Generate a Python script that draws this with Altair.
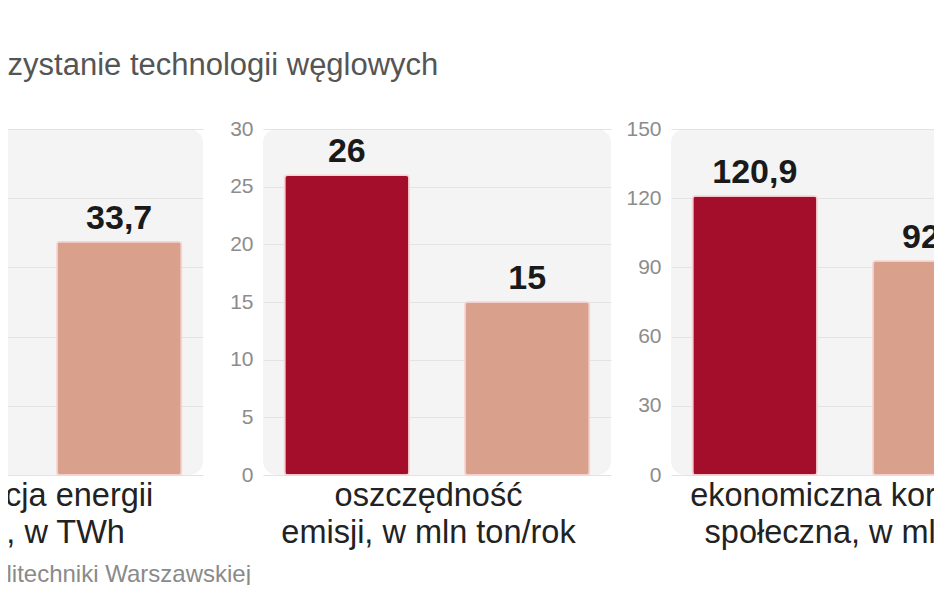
import altair as alt
import pandas as pd

# ---- data ----
variants = ["wariant 1", "wariant 2"]
colors = ["#a50e2b", "#d9a08b"]

p1_values = [47.0, 33.7]
p2_values = [26, 15]
p3_values = [120.9, 92.8]

p1_title = ["produkcja energii", "netto, w TWh"]
p2_title = ["oszczędność", "emisji, w mln ton/rok"]
p3_title = ["ekonomiczna korzyść", "społeczna, w mld zł"]

p1_ticks = [0, 10, 20, 30, 40, 50]
p2_ticks = [0, 5, 10, 15, 20, 25, 30]
p3_ticks = [0, 30, 60, 90, 120, 150]

main_title = "Wykorzystanie technologii węglowych"
source_text = "Źródło: opracowanie Politechniki Warszawskiej"

FONT = "Liberation Sans"
W, H = 348, 346


def fmt(v):
    return f"{v:g}".replace(".", ",")


def panel(values, ticks, xtitle, title=None, title_shift=0):
    df = pd.DataFrame({
        "variant": variants,
        "value": values,
        "label": [fmt(v) for v in values],
    })
    x = alt.X(
        "variant:N",
        sort=variants,
        scale=alt.Scale(paddingInner=0.31, paddingOuter=0.12),
        title=xtitle,
        axis=alt.Axis(
            labels=False, ticks=False, domain=False, grid=False,
            titleFont=FONT, titleFontSize=32.5, titleFontWeight="normal",
            titleColor="#222222", titlePadding=4, titleLineHeight=37,
            titleX=W / 2 + title_shift,
        ),
    )
    y = alt.Y(
        "value:Q",
        scale=alt.Scale(domain=[ticks[0], ticks[-1]], nice=False),
        title=None,
        axis=alt.Axis(
            values=ticks, ticks=False, domain=False, grid=True,
            gridColor="#e3e3e3", gridWidth=1,
            labelFont=FONT, labelFontSize=21, labelColor="#8c8c8c",
            labelPadding=10,
        ),
    )
    base = alt.Chart(df)
    bars = base.mark_bar(
        cornerRadius=3, stroke="#f6d2d2", strokeWidth=1.5
    ).encode(
        x=x, y=y,
        color=alt.Color("variant:N", scale=alt.Scale(domain=variants, range=colors), legend=None),
    )
    text = base.mark_text(
        baseline="alphabetic", dy=-13, font=FONT, fontSize=34,
        fontWeight="bold", color="#1a1a1a",
    ).encode(x=x, y=y, text="label:N")
    props = dict(width=W, height=H)
    if title is not None:
        props["title"] = title
    return alt.layer(bars, text).properties(**props)


src = alt.TitleParams(
    source_text, orient="bottom", anchor="end", dx=48, offset=14,
    font=FONT, fontSize=24, fontWeight="normal", color="#8a8a8a",
)

chart = alt.hconcat(
    panel(p1_values, p1_ticks, p1_title, src),
    panel(p2_values, p2_ticks, p2_title, title_shift=-9),
    panel(p3_values, p3_ticks, p3_title),
    spacing=60,
    bounds="flush",
).properties(
    title=alt.TitleParams(
        main_title, anchor="start", fontSize=31, font=FONT,
        fontWeight="normal", color="#555555", offset=28, dx=167,
    ),
    padding={"left": -255, "top": 41, "right": -85, "bottom": -2},
).configure_view(
    fill="#f4f4f4", stroke=None, cornerRadius=14,
)

chart.save("out.html", embed_options={"renderer": "svg", "actions": False})
